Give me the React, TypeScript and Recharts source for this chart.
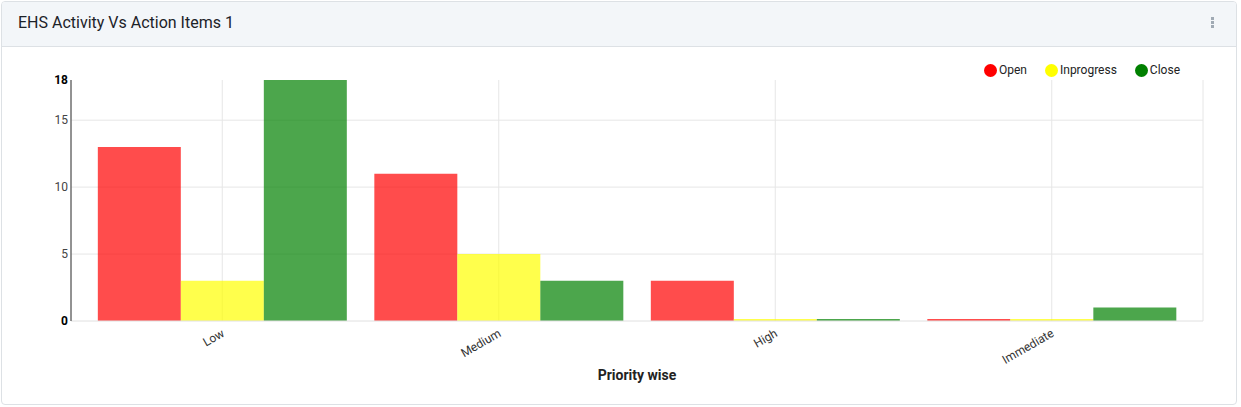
import React from 'react';
import { BarChart, Bar, XAxis, YAxis, CartesianGrid, Legend, Label } from 'recharts';

const categories = ['Low', 'Medium', 'High', 'Immediate'];
const openValues = [13, 11, 3, 0];
const inprogressValues = [3, 5, 0, 0];
const closeValues = [18, 3, 0, 1];
const yTicks = [0, 5, 10, 15, 18];

const series = [
  { key: 'open', name: 'Open', color: '#ff0000' },
  { key: 'inprogress', name: 'Inprogress', color: '#ffff00' },
  { key: 'close', name: 'Close', color: '#008000' },
];

const data = categories.map((c, i) => ({
  name: c,
  open: openValues[i],
  inprogress: inprogressValues[i],
  close: closeValues[i],
}));

const FONT = 'Roboto, "Noto Sans", Arial, sans-serif';

const YTick = ({ x, y, payload }: any) => {
  const edge = payload.value === 0 || payload.value === 18;
  return (
    <text x={x + 5} y={y} dy={4} textAnchor="end" fontSize={12} fontFamily={FONT}
      fill={edge ? '#000' : '#444'} fontWeight={edge ? 700 : 400}>
      {payload.value}
    </text>
  );
};

const XTick = ({ x, y, payload }: any) => (
  <text x={x - 2} y={y - 2} dy={10} textAnchor="end" fontSize={12} fontFamily={FONT} fill="#333"
    transform={`rotate(-30 ${x - 2} ${y - 2})`}>
    {payload.value}
  </text>
);

const LegendContent = () => (
  <div style={{ display: 'flex', justifyContent: 'flex-end', fontFamily: FONT, fontSize: 12, color: '#222' }}>
    {series.map(s => (
      <div key={s.key} style={{ display: 'flex', alignItems: 'center', marginLeft: 18 }}>
        <span style={{ width: 13, height: 13, borderRadius: '50%', background: s.color, display: 'inline-block', marginRight: 2 }} />
        <span>{s.name}</span>
      </div>
    ))}
  </div>
);

export default function App() {
  return (
    <div style={{ position: 'absolute', left: 0, top: 0, width: 1241, height: 407, background: '#fff', fontFamily: FONT }}>
      <div style={{ position: 'absolute', left: 1, top: 1, width: 1236, height: 404, border: '1px solid #dde1e5', borderRadius: 4, boxSizing: 'border-box', overflow: 'hidden' }}>
        <div style={{ height: 45, background: '#f3f6f9', borderBottom: '1px solid #dde1e5', boxSizing: 'border-box', position: 'relative' }}>
          <div style={{ position: 'absolute', left: 16, top: 11, fontSize: 16, color: '#1c2228' }}>EHS Activity Vs Action Items 1</div>
          <div style={{ position: 'absolute', left: 1209, top: 15 }}>
            {[0, 1, 2].map(i => (
              <div key={i} style={{ width: 3, height: 3, background: '#a0aab4', marginBottom: 1 }} />
            ))}
          </div>
        </div>
      </div>
      <div style={{ position: 'absolute', left: 0, top: 46 }}>
        <BarChart width={1241} height={360} data={data} barGap={0} barCategoryGap="5%"
          margin={{ top: 20, right: 38, bottom: 0, left: 0 }}>
          <CartesianGrid stroke="#e6e6e6" horizontalValues={[5, 10, 15]} />
          <XAxis dataKey="name" height={85} interval={0} padding={{ left: 13, right: 13 }}
            stroke="#e0e0e0" tickLine={false} tick={<XTick />}>
            <Label value="Priority wise" position="insideBottom" offset={26}
              style={{ fontFamily: FONT, fontSize: 14, fontWeight: 700, fill: '#222' }} />
          </XAxis>
          <YAxis width={71} domain={[0, 18]} ticks={yTicks} interval={0} stroke="#333"
            tickLine={false} tick={<YTick />} />
          <Legend verticalAlign="top" content={<LegendContent />}
            wrapperStyle={{ top: 17, right: 61, left: 'auto', width: 400 }} />
          {series.map(s => (
            <Bar key={s.key} dataKey={s.key} name={s.name} fill={s.color} fillOpacity={0.7}
              minPointSize={2} isAnimationActive={false} />
          ))}
        </BarChart>
      </div>
    </div>
  );
}
